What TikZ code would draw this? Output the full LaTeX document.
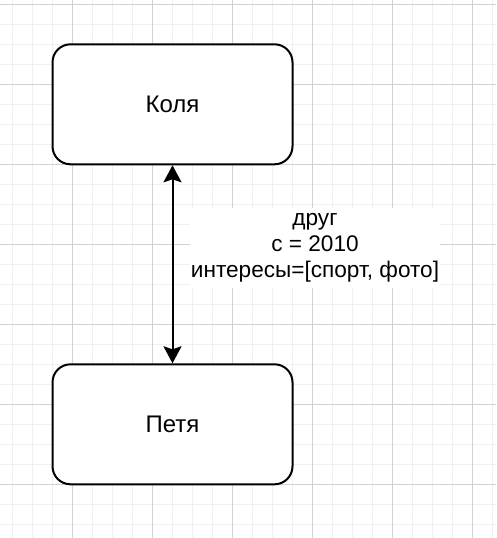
\documentclass[tikz,border=0pt]{standalone}
\usepackage{fontspec}
\setmainfont{Liberation Sans}
\usetikzlibrary{arrows.meta}
\definecolor{minorgrid}{HTML}{F0F0F0}
\definecolor{majorgrid}{HTML}{D2D2D2}
\tikzset{
  personbox/.style={draw=black, line width=2pt, rounded corners=18pt, fill=white,
    minimum width=240pt, minimum height=120pt, inner sep=0pt,
    font=\fontsize{24}{28.8}\selectfont},
  relarrow/.style={line width=2pt, {Stealth[length=17pt,width=18pt,inset=3pt]}-{Stealth[length=17pt,width=18pt,inset=3pt]}},
  rellabel/.style={fill=white, inner sep=0pt, minimum width=250pt, minimum height=80pt,
    align=center, font=\fontsize{22.6}{25.8}\selectfont},
}
\begin{document}
\begin{tikzpicture}[x=1pt,y=-1pt]
\useasboundingbox (0,0) rectangle (496,538);
\fill[white] (0,0) rectangle (496,538);
% minor grid
\foreach \gx in {12.5,32.5,...,492.5} \draw[minorgrid, line width=1.4pt] (\gx,0) -- (\gx,538);
\foreach \gy in {4.3,24.3,...,524.3} \draw[minorgrid, line width=1.4pt] (0,\gy) -- (496,\gy);
% major grid
\foreach \gx in {72.5,152.5,...,472.5} \draw[majorgrid, line width=1pt] (\gx,0) -- (\gx,538);
\foreach \gy in {4.3,84.3,...,484.3} \draw[majorgrid, line width=1pt] (0,\gy) -- (496,\gy);
% nodes
\node[personbox] (kolya) at (172.5,104.3) {Коля};
\node[personbox] (petya) at (172.5,424.3) {Петя};
\draw[relarrow] (kolya) -- (petya);
\node[rellabel] (lbl) at (315,248) {друг\\c = 2010\\интересы=[спорт, фото]};
\end{tikzpicture}
\end{document}
